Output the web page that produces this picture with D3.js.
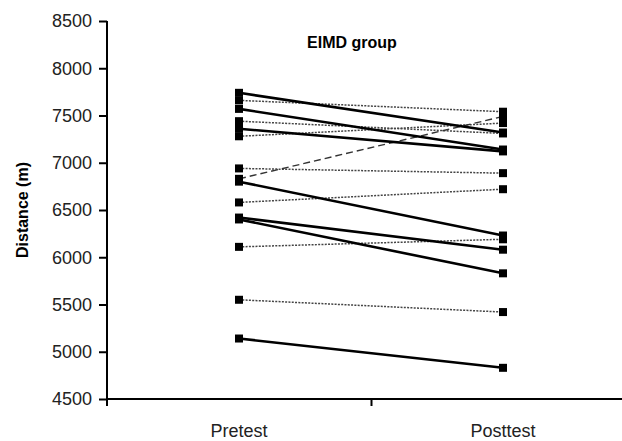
<!DOCTYPE html>
<html>
<head>
<meta charset="utf-8">
<script src="https://cdn.jsdelivr.net/npm/d3@7"></script>
<style>
  body { margin: 0; background: #fff; }
  svg { display: block; font-family: "Liberation Sans", Arial, sans-serif; }
</style>
</head>
<body>
<div id="chart"></div>
<script>
// categories and per-subject values (m)
const phases = ["Pretest", "Posttest"];
const pretest  = [7740, 7660, 7570, 7440, 7360, 7280, 6940, 6830, 6800, 6580, 6420, 6400, 6110, 5550, 5140];
const posttest = [7320, 7540, 7140, 7310, 7120, 7420, 6890, 7490, 6230, 6720, 6080, 5830, 6190, 5420, 4830];
const lineType = ["solid", "dotted", "solid", "dotted", "solid", "dotted", "dotted", "dashed",
                  "solid", "dotted", "solid", "solid", "dotted", "dotted", "solid"];
const yTicks = [4500, 5000, 5500, 6000, 6500, 7000, 7500, 8000, 8500];

const width = 622, height = 441;
const svg = d3.select("#chart").append("svg")
  .attr("width", width)
  .attr("height", height);

const x = d3.scaleBand().domain(phases).range([107, 635]).padding(0);
const xEdge = d3.scaleLinear().domain([0, 2]).range([107, 635]);
const y = d3.scaleLinear().domain([4500, 8500]).range([399, 21]);

const styles = {
  solid:  {stroke: "#000", width: 2.6, dash: null},
  dotted: {stroke: "#444", width: 1.5, dash: "2,1.3"},
  dashed: {stroke: "#333", width: 1.4, dash: "7,4"}
};

const subjects = pretest.map((d, i) => ({pre: d, post: posttest[i], type: lineType[i]}));

// connecting lines (dotted first so solid ones sit on top)
const order = {dotted: 0, dashed: 1, solid: 2};
svg.append("g").selectAll("line")
  .data(subjects.slice().sort((a, b) => order[a.type] - order[b.type]))
  .enter().append("line")
  .attr("x1", x("Pretest") + x.bandwidth() / 2)
  .attr("x2", x("Posttest") + x.bandwidth() / 2)
  .attr("y1", d => y(d.pre))
  .attr("y2", d => y(d.post))
  .attr("stroke", d => styles[d.type].stroke)
  .attr("stroke-width", d => styles[d.type].width)
  .attr("stroke-dasharray", d => styles[d.type].dash);

// square markers
const ms = 8;
const points = [];
subjects.forEach(s => { points.push({p: "Pretest", v: s.pre}); points.push({p: "Posttest", v: s.post}); });
svg.append("g").selectAll("rect")
  .data(points)
  .enter().append("rect")
  .attr("x", d => x(d.p) + x.bandwidth() / 2 - ms / 2)
  .attr("y", d => y(d.v) - ms / 2)
  .attr("width", ms)
  .attr("height", ms)
  .attr("fill", "#000");

// y axis
const yAxis = svg.append("g")
  .attr("transform", "translate(107,0)")
  .call(d3.axisLeft(y).tickValues(yTicks).tickSize(8).tickPadding(7).tickFormat(d3.format("d")));
yAxis.select(".domain").attr("stroke-width", 2).attr("d", "M0,21V406");
yAxis.selectAll(".tick line").attr("stroke-width", 2);
yAxis.selectAll("text").attr("font-size", 18).attr("fill", "#222");

// x axis: boundary ticks + category labels
const xAxis = svg.append("g")
  .attr("transform", "translate(0,399)")
  .call(d3.axisBottom(xEdge).tickValues([1]).tickSize(7).tickFormat(""));
xAxis.select(".domain").attr("stroke-width", 2).attr("d", "M107,0H635");
xAxis.selectAll(".tick line").attr("stroke-width", 2);

const xLab = svg.append("g")
  .attr("transform", "translate(0,399)")
  .call(d3.axisBottom(x).tickSize(0).tickPadding(25));
xLab.select(".domain").remove();
xLab.selectAll("text").attr("font-size", 18).attr("fill", "#222");

// titles
svg.append("text")
  .attr("transform", "translate(28,210) rotate(-90)")
  .attr("text-anchor", "middle")
  .attr("font-size", 16)
  .attr("font-weight", "bold")
  .text("Distance (m)");

svg.append("text")
  .attr("x", 352)
  .attr("y", 48)
  .attr("text-anchor", "middle")
  .attr("font-size", 16)
  .attr("font-weight", "bold")
  .text("EIMD group");
</script>
</body>
</html>
